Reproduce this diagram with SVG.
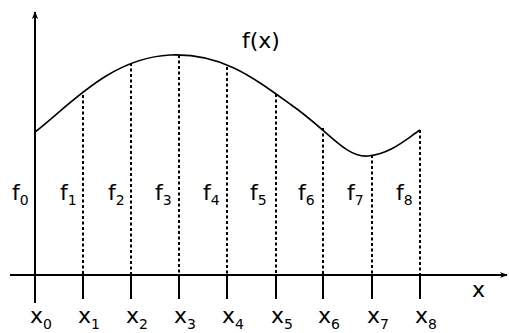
<svg xmlns="http://www.w3.org/2000/svg" width="509" height="333" viewBox="0 0 509 333">
<defs>
<style>
.ax{stroke:#000;stroke-width:2;fill:none}
.tk{stroke:#000;stroke-width:2}
.dl{stroke:#000;stroke-width:2;stroke-dasharray:3 2.5}
.cv{stroke:#000;stroke-width:1.6;fill:none}
text{font-family:"DejaVu Sans",sans-serif;fill:#000}
.lb{font-size:22px}
.sb{font-size:14px}
</style>
<marker id="ah" viewBox="0 0 10 10" refX="9" refY="5" markerWidth="8" markerHeight="8" markerUnits="userSpaceOnUse" orient="auto">
<path d="M0,1 L10,5 L0,9 L3,5 Z" fill="#000"/>
</marker>
</defs>
<rect width="509" height="333" fill="#fff"/>
<g id="axes">
<line class="ax" x1="35" y1="303" x2="35" y2="12" marker-end="url(#ah)"/>
<line class="ax" x1="10" y1="275" x2="507" y2="275" marker-end="url(#ah)"/>
</g>
<g id="curve">
<path class="cv" d="M35,132 C70,105 110,58 170,55 C220,53 250,75 290,104 C328,130 345,158 368,156 C390,154 405,140 420,130"/>
</g>
<g id="connectors">
<line class="dl" x1="83" y1="95" x2="83" y2="275"/>
<line class="dl" x1="131" y1="63" x2="131" y2="275"/>
<line class="dl" x1="179" y1="55" x2="179" y2="275"/>
<line class="dl" x1="227" y1="67" x2="227" y2="275"/>
<line class="dl" x1="276" y1="94" x2="276" y2="275"/>
<line class="dl" x1="323" y1="128" x2="323" y2="275"/>
<line class="dl" x1="372" y1="155" x2="372" y2="275"/>
<line class="dl" x1="420" y1="130" x2="420" y2="275"/>
</g>
<g id="ticks">
<line class="tk" x1="35" y1="275" x2="35" y2="303"/>
<line class="tk" x1="83" y1="275" x2="83" y2="299"/>
<line class="tk" x1="131" y1="275" x2="131" y2="299"/>
<line class="tk" x1="179" y1="275" x2="179" y2="299"/>
<line class="tk" x1="227" y1="275" x2="227" y2="299"/>
<line class="tk" x1="276" y1="275" x2="276" y2="299"/>
<line class="tk" x1="323" y1="275" x2="323" y2="299"/>
<line class="tk" x1="372" y1="275" x2="372" y2="299"/>
<line class="tk" x1="420" y1="275" x2="420" y2="299"/>
</g>
<g id="fx-label"><text class="lb" x="242" y="48">f(x)</text></g>
<g id="x-label"><text class="lb" x="472" y="297">x</text></g>
<g id="f-labels">
<text class="lb" x="12" y="200">f<tspan class="sb" dy="5">0</tspan></text>
<text class="lb" x="60" y="200">f<tspan class="sb" dy="5">1</tspan></text>
<text class="lb" x="108" y="200">f<tspan class="sb" dy="5">2</tspan></text>
<text class="lb" x="155" y="200">f<tspan class="sb" dy="5">3</tspan></text>
<text class="lb" x="203" y="200">f<tspan class="sb" dy="5">4</tspan></text>
<text class="lb" x="250" y="200">f<tspan class="sb" dy="5">5</tspan></text>
<text class="lb" x="298" y="200">f<tspan class="sb" dy="5">6</tspan></text>
<text class="lb" x="347" y="200">f<tspan class="sb" dy="5">7</tspan></text>
<text class="lb" x="396" y="200">f<tspan class="sb" dy="5">8</tspan></text>
</g>
<g id="x-labels">
<text class="lb" x="30" y="323">x<tspan class="sb" dy="6">0</tspan></text>
<text class="lb" x="78" y="323">x<tspan class="sb" dy="6">1</tspan></text>
<text class="lb" x="126" y="323">x<tspan class="sb" dy="6">2</tspan></text>
<text class="lb" x="174" y="323">x<tspan class="sb" dy="6">3</tspan></text>
<text class="lb" x="222" y="323">x<tspan class="sb" dy="6">4</tspan></text>
<text class="lb" x="271" y="323">x<tspan class="sb" dy="6">5</tspan></text>
<text class="lb" x="318" y="323">x<tspan class="sb" dy="6">6</tspan></text>
<text class="lb" x="367" y="323">x<tspan class="sb" dy="6">7</tspan></text>
<text class="lb" x="415" y="323">x<tspan class="sb" dy="6">8</tspan></text>
</g>
</svg>
